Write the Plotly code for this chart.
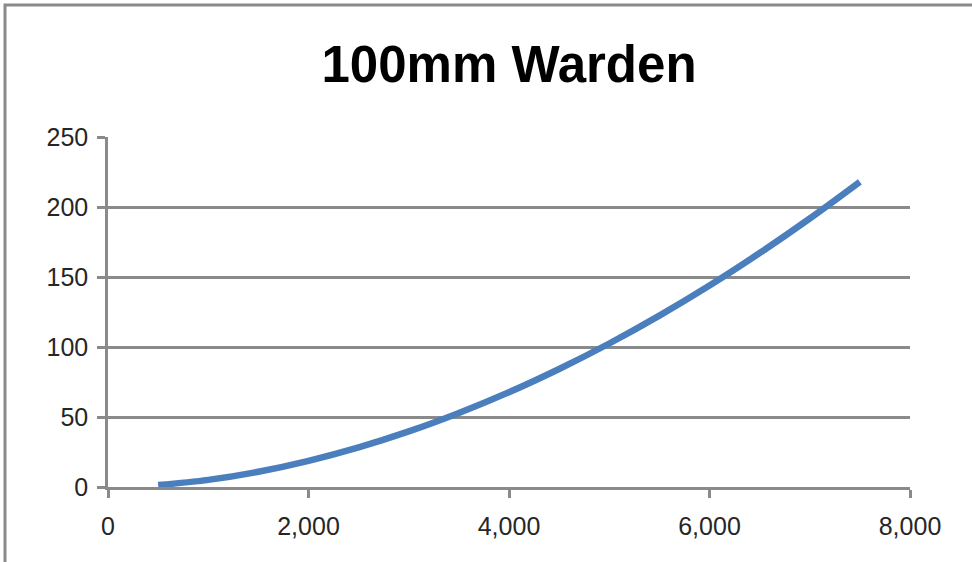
import plotly.graph_objects as go

# Data
speed = [500, 1000, 1500, 2000, 2500, 3000, 3500, 4000, 4500, 5000, 5500, 6000, 6500, 7000, 7500]
value = [1.4, 5.1, 10.9, 18.7, 28.3, 39.7, 52.9, 67.7, 84.3, 102.5, 122.4, 143.9, 167.1, 191.8, 218]

title_text = "100mm Warden"
x_ticks = [0, 2000, 4000, 6000, 8000]
x_tick_labels = ["0", "2,000", "4,000", "6,000", "8,000"]
y_ticks = [0, 50, 100, 150, 200, 250]

W, H = 972, 562
ml, mr, mt, mb = 108, 62, 137, 75
gray = "#8a8a8a"
font_family = "Liberation Sans, Arial, sans-serif"

fig = go.Figure()
fig.add_trace(go.Scatter(
    x=speed, y=value, mode="lines",
    line=dict(color="#4A7EBD", width=6.5, shape="spline"),
    showlegend=False, hoverinfo="x+y",
))

pw = W - ml - mr
ph = H - mt - mb
# outer chart frame (top and left visible edges)
fig.add_shape(type="rect", xref="paper", yref="paper",
              x0=(5 - ml) / pw, x1=(W + 20 - ml) / pw,
              y0=-(H + 20 - mt - ph) / ph, y1=(mt + ph - 5) / ph,
              line=dict(color=gray, width=3), layer="below")

fig.update_layout(
    width=W, height=H,
    margin=dict(l=ml, r=mr, t=mt, b=mb, autoexpand=False),
    paper_bgcolor="white", plot_bgcolor="white",
    title=dict(text="<b>" + title_text + "</b>", x=0.5, xref="paper", xanchor="center",
               y=1 - 64 / H, yref="container", yanchor="middle",
               font=dict(family=font_family, size=51, color="black")),
    font=dict(family=font_family, size=25, color="#262626"),
    xaxis=dict(range=[0, 8000], tickvals=x_ticks, ticktext=x_tick_labels,
               showgrid=False, zeroline=False,
               showline=True, linecolor=gray, linewidth=2.5,
               ticks="outside", ticklen=8, tickwidth=2.5, tickcolor=gray,
               ticklabelstandoff=7, tickfont=dict(size=25, color="#262626"),
               fixedrange=True),
    yaxis=dict(range=[0, 250], tickvals=y_ticks,
               showgrid=True, gridcolor=gray, gridwidth=2.5, zeroline=False,
               showline=True, linecolor=gray, linewidth=2.5,
               ticks="outside", ticklen=8, tickwidth=2.5, tickcolor=gray,
               ticklabelstandoff=4, tickfont=dict(size=25, color="#262626"),
               fixedrange=True),
)

fig.write_html("out.html", config={"displayModeBar": False},
               post_script="document.body.style.margin='0';document.body.style.overflow='hidden';")
